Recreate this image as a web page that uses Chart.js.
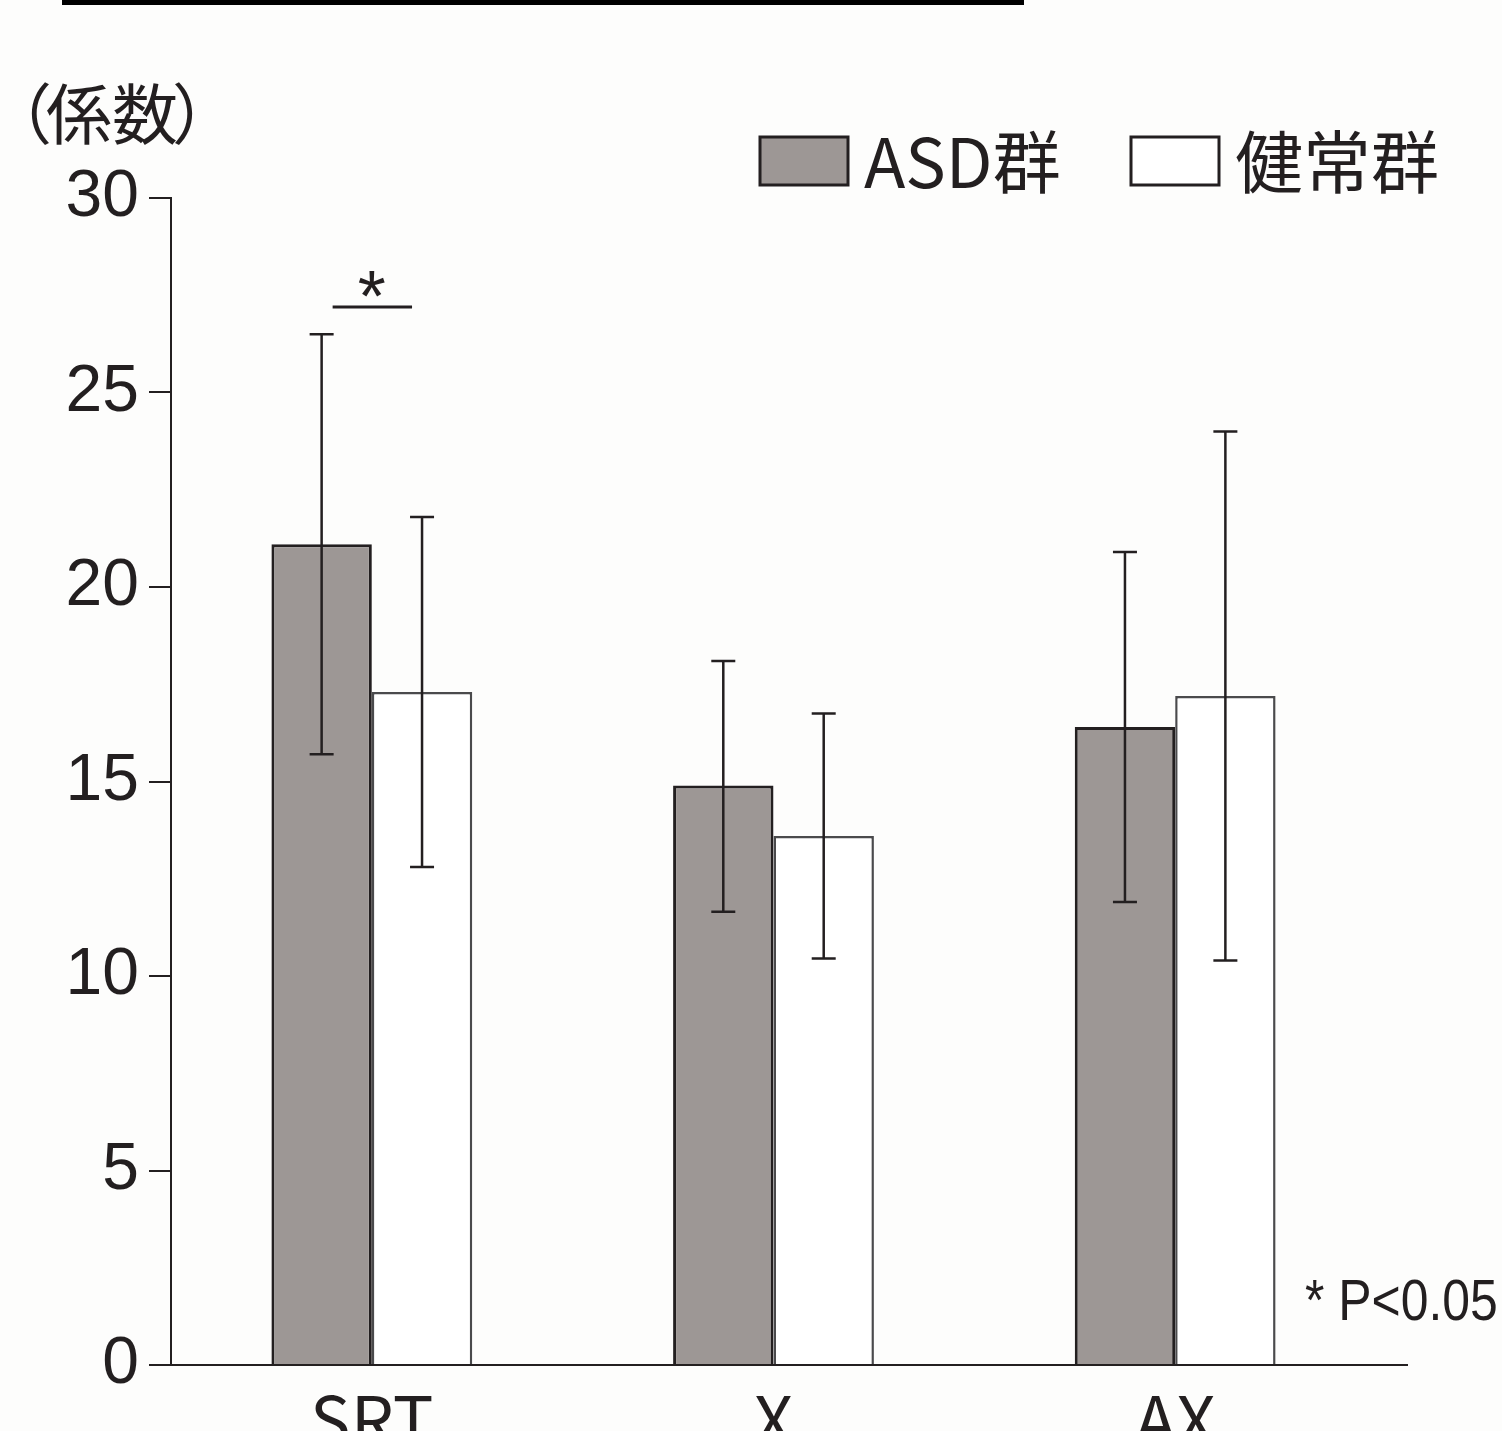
<!DOCTYPE html>
<html>
<head>
<meta charset="utf-8">
<script src="https://cdn.jsdelivr.net/npm/chart.js@4"></script>
<style>
  html, body { margin: 0; padding: 0; background: #fdfdfc; }
  #wrap { width: 1502px; height: 1431px; position: relative; }
</style>
</head>
<body>
<div id="wrap"><canvas id="chart"></canvas></div>
<script>
// データ
const categories = ["SRT", "X", "AX"];
const asdMean = [21.1, 14.9, 16.4];
const asdUpper = [26.5, 18.1, 20.9];
const asdLower = [15.7, 11.65, 11.9];
const ctlMean = [17.3, 13.6, 17.2];
const ctlUpper = [21.8, 16.75, 24.0];
const ctlLower = [12.8, 10.45, 10.4];
const yTicks = [0, 5, 10, 15, 20, 25, 30];
const sigIndex = 0;      // 有意差のあるカテゴリ (SRT)
const sigLevel = 27.2;   // 有意差ラインの高さ
const unitParts = ["（", "係数", "）"];
const noteLabel = "* P<0.05";

const ink = "#231f20";
const cjk = '"Noto Sans CJK JP", "Noto Sans", sans-serif';
const latin = '"Liberation Sans", Arial, sans-serif';

const errors = [
  { upper: asdUpper, lower: asdLower },
  { upper: ctlUpper, lower: ctlLower },
];

// エラーバー・凡例・注記
const extras = {
  id: "extras",
  afterDatasetsDraw(chart) {
    const ctx = chart.ctx;
    const yScale = chart.scales.y;
    const area = chart.chartArea;
    ctx.save();
    ctx.strokeStyle = ink;
    ctx.lineWidth = 2.5;
    errors.forEach((err, i) => {
      chart.getDatasetMeta(i).data.forEach((bar, j) => {
        const top = yScale.getPixelForValue(err.upper[j]);
        const bot = yScale.getPixelForValue(err.lower[j]);
        ctx.beginPath();
        ctx.moveTo(bar.x, top);
        ctx.lineTo(bar.x, bot);
        ctx.moveTo(bar.x - 12, top);
        ctx.lineTo(bar.x + 12, top);
        ctx.moveTo(bar.x - 12, bot);
        ctx.lineTo(bar.x + 12, bot);
        ctx.stroke();
      });
    });

    // x軸の延長
    ctx.lineWidth = 2;
    ctx.beginPath();
    ctx.moveTo(area.right - 1, area.bottom);
    ctx.lineTo(1408, area.bottom);
    ctx.stroke();

    // 有意差
    const b1 = chart.getDatasetMeta(0).data[sigIndex];
    const b2 = chart.getDatasetMeta(1).data[sigIndex];
    const sy = yScale.getPixelForValue(sigLevel);
    ctx.lineWidth = 3;
    ctx.beginPath();
    ctx.moveTo(b1.x + 11, sy);
    ctx.lineTo(b2.x - 10, sy);
    ctx.stroke();
    ctx.fillStyle = ink;
    ctx.font = "72px " + latin;
    ctx.textAlign = "center";
    ctx.textBaseline = "alphabetic";
    ctx.fillText("*", (b1.x + b2.x) / 2, sy + 14);

    // 単位
    ctx.font = "66px " + cjk;
    ctx.textAlign = "left";
    ctx.textBaseline = "middle";
    ctx.fillText(unitParts[0], -14, 114);
    ctx.fillText(unitParts[1], 46, 114);
    ctx.fillText(unitParts[2], 172, 114);

    // 凡例
    const sets = chart.data.datasets;
    const legendX = [760, 1131];
    sets.forEach((ds, i) => {
      ctx.fillStyle = ds.backgroundColor;
      ctx.fillRect(legendX[i], 137, 88, 48);
      ctx.strokeStyle = ink;
      ctx.lineWidth = 3;
      ctx.strokeRect(legendX[i], 137, 88, 48);
      ctx.fillStyle = ink;
      ctx.font = "68px " + cjk;
      ctx.textBaseline = "middle";
      ctx.fillText(ds.label, legendX[i] + 104, 162);
    });

    // 注記
    ctx.font = "58px " + latin;
    ctx.textBaseline = "alphabetic";
    ctx.save();
    ctx.translate(1305, 1320);
    ctx.scale(0.86, 1);
    ctx.fillText(noteLabel, 0, 0);
    ctx.restore();

    // 上部の黒線
    ctx.fillStyle = "#000";
    ctx.fillRect(62, 0, 962, 5);
    ctx.restore();
  },
};

const ctx = document.getElementById("chart").getContext("2d");
new Chart(ctx, {
  type: "bar",
  data: {
    labels: categories,
    datasets: [
      {
        label: "ASD群",
        data: asdMean,
        backgroundColor: "#9d9795",
        borderColor: ink,
        borderWidth: 3,
      },
      {
        label: "健常群",
        data: ctlMean,
        backgroundColor: "#ffffff",
        borderColor: "#4a4a4c",
        borderWidth: 2.5,
      },
    ],
  },
  options: {
    responsive: true,
    maintainAspectRatio: false,
    animation: false,
    devicePixelRatio: 1,
    layout: { padding: { top: 198, right: 126, left: 0, bottom: 0 } },
    datasets: { bar: { categoryPercentage: 0.5, barPercentage: 1.0 } },
    plugins: {
      legend: { display: false },
      tooltip: { enabled: false },
      title: { display: false },
    },
    scales: {
      x: {
        grid: { display: false, drawTicks: false },
        border: { display: true, color: ink, width: 2 },
        ticks: {
          color: ink,
          padding: 14,
          font: { family: cjk, size: 68 },
        },
        afterFit(scale) { scale.height = 66; },
      },
      y: {
        min: 0,
        max: 30,
        afterBuildTicks(scale) { scale.ticks = yTicks.map((v) => ({ value: v })); },
        ticks: {
          color: ink,
          padding: 10,
          font: { family: latin, size: 66 },
        },
        grid: { drawOnChartArea: false, drawTicks: true, tickLength: 22, color: ink, lineWidth: 2 },
        border: { display: true, color: ink, width: 2 },
        afterFit(scale) { scale.width = 171; },
      },
    },
  },
  plugins: [extras],
});
</script>
</body>
</html>
